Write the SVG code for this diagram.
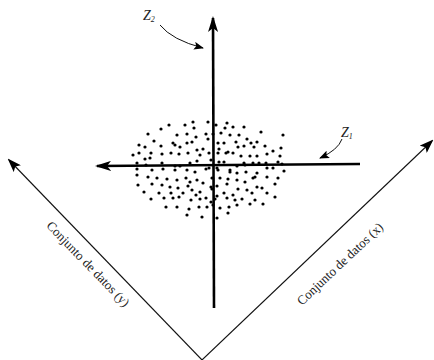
<svg xmlns="http://www.w3.org/2000/svg" width="434" height="360" viewBox="0 0 434 360">
<style>
.lbl{font-family:"Liberation Serif","Times New Roman",serif;fill:#222;}
.z{font-family:"Liberation Serif","Times New Roman",serif;font-style:italic;fill:#222;}
.axis{stroke:#000;stroke-width:2.6;fill:none;}
.diag{stroke:#111;stroke-width:1.1;fill:none;}
.pt{fill:#000;}
</style>
<defs>
<marker id="ah" viewBox="0 0 14 10" refX="12" refY="5" markerWidth="14" markerHeight="10" markerUnits="userSpaceOnUse" orient="auto">
<path d="M0,0 L14,5 L0,10 L3,5 Z" fill="#000"/>
</marker>
<marker id="ahs" viewBox="0 0 10 8" refX="9" refY="4" markerWidth="10" markerHeight="8" markerUnits="userSpaceOnUse" orient="auto">
<path d="M0,0 L10,4 L0,8 L2,4 Z" fill="#000"/>
</marker>
<marker id="ahb" viewBox="0 0 16 10" refX="14" refY="5" markerWidth="16" markerHeight="10" markerUnits="userSpaceOnUse" orient="auto">
<path d="M0,0 L16,5 L0,10 L4,5 Z" fill="#000"/>
</marker>
</defs>
<g id="cloud">
<circle class="pt" cx="193" cy="122" r="1.6"/><circle class="pt" cx="208" cy="122" r="1.6"/><circle class="pt" cx="169" cy="125" r="1.6"/><circle class="pt" cx="185" cy="125" r="1.6"/><circle class="pt" cx="161" cy="129" r="1.6"/><circle class="pt" cx="194" cy="128" r="1.6"/><circle class="pt" cx="216" cy="125" r="1.6"/><circle class="pt" cx="227" cy="123" r="1.6"/><circle class="pt" cx="233" cy="127" r="1.6"/><circle class="pt" cx="244" cy="127" r="1.6"/>
<circle class="pt" cx="221" cy="133" r="1.6"/><circle class="pt" cx="225" cy="128" r="1.6"/><circle class="pt" cx="230" cy="135" r="1.6"/><circle class="pt" cx="239" cy="135" r="1.6"/><circle class="pt" cx="148" cy="134" r="1.6"/><circle class="pt" cx="177" cy="135" r="1.6"/><circle class="pt" cx="187" cy="134" r="1.6"/><circle class="pt" cx="196" cy="137" r="1.6"/><circle class="pt" cx="206" cy="134" r="1.6"/><circle class="pt" cx="213" cy="134" r="1.6"/>
<circle class="pt" cx="261" cy="132" r="1.6"/><circle class="pt" cx="283" cy="135" r="1.6"/><circle class="pt" cx="154" cy="141" r="1.6"/><circle class="pt" cx="173" cy="143" r="1.6"/><circle class="pt" cx="175" cy="145" r="1.6"/><circle class="pt" cx="187" cy="143" r="1.6"/><circle class="pt" cx="192" cy="142" r="1.6"/><circle class="pt" cx="208" cy="139" r="1.6"/><circle class="pt" cx="218" cy="143" r="1.6"/><circle class="pt" cx="224" cy="143" r="1.6"/>
<circle class="pt" cx="236" cy="142" r="1.6"/><circle class="pt" cx="247" cy="139" r="1.6"/><circle class="pt" cx="251" cy="143" r="1.6"/><circle class="pt" cx="257" cy="142" r="1.6"/><circle class="pt" cx="139" cy="145" r="1.6"/><circle class="pt" cx="145" cy="147" r="1.6"/><circle class="pt" cx="161" cy="146" r="1.6"/><circle class="pt" cx="180" cy="147" r="1.6"/><circle class="pt" cx="197" cy="150" r="1.6"/><circle class="pt" cx="203" cy="149" r="1.6"/>
<circle class="pt" cx="219" cy="149" r="1.6"/><circle class="pt" cx="228" cy="152" r="1.6"/><circle class="pt" cx="238" cy="147" r="1.6"/><circle class="pt" cx="244" cy="146" r="1.6"/><circle class="pt" cx="254" cy="147" r="1.6"/><circle class="pt" cx="265" cy="146" r="1.6"/><circle class="pt" cx="281" cy="148" r="1.6"/><circle class="pt" cx="133" cy="155" r="1.6"/><circle class="pt" cx="139" cy="153" r="1.6"/><circle class="pt" cx="151" cy="153" r="1.6"/>
<circle class="pt" cx="162" cy="154" r="1.6"/><circle class="pt" cx="171" cy="153" r="1.6"/><circle class="pt" cx="179" cy="154" r="1.6"/><circle class="pt" cx="188" cy="153" r="1.6"/><circle class="pt" cx="200" cy="155" r="1.6"/><circle class="pt" cx="209" cy="153" r="1.6"/><circle class="pt" cx="218" cy="153" r="1.6"/><circle class="pt" cx="226" cy="153" r="1.6"/><circle class="pt" cx="233" cy="153" r="1.6"/><circle class="pt" cx="241" cy="156" r="1.6"/>
<circle class="pt" cx="250" cy="156" r="1.6"/><circle class="pt" cx="257" cy="156" r="1.6"/><circle class="pt" cx="267" cy="154" r="1.6"/><circle class="pt" cx="273" cy="151" r="1.6"/><circle class="pt" cx="280" cy="156" r="1.6"/><circle class="pt" cx="145" cy="159" r="1.6"/><circle class="pt" cx="150" cy="158" r="1.6"/><circle class="pt" cx="162" cy="163" r="1.6"/><circle class="pt" cx="190" cy="163" r="1.6"/><circle class="pt" cx="197" cy="161" r="1.6"/>
<circle class="pt" cx="211" cy="160" r="1.6"/><circle class="pt" cx="219" cy="162" r="1.6"/><circle class="pt" cx="224" cy="162" r="1.6"/><circle class="pt" cx="244" cy="163" r="1.6"/><circle class="pt" cx="253" cy="163" r="1.6"/><circle class="pt" cx="259" cy="163" r="1.6"/><circle class="pt" cx="266" cy="163" r="1.6"/><circle class="pt" cx="278" cy="162" r="1.6"/><circle class="pt" cx="137" cy="163" r="1.6"/><circle class="pt" cx="146" cy="165" r="1.6"/>
<circle class="pt" cx="175" cy="166" r="1.6"/><circle class="pt" cx="180" cy="166" r="1.6"/><circle class="pt" cx="217" cy="168" r="1.6"/><circle class="pt" cx="230" cy="170" r="1.6"/><circle class="pt" cx="237" cy="166" r="1.6"/><circle class="pt" cx="245" cy="165" r="1.6"/><circle class="pt" cx="267" cy="168" r="1.6"/><circle class="pt" cx="273" cy="168" r="1.6"/><circle class="pt" cx="282" cy="164" r="1.6"/><circle class="pt" cx="137" cy="169" r="1.6"/>
<circle class="pt" cx="152" cy="170" r="1.6"/><circle class="pt" cx="163" cy="169" r="1.6"/><circle class="pt" cx="175" cy="170" r="1.6"/><circle class="pt" cx="187" cy="170" r="1.6"/><circle class="pt" cx="195" cy="172" r="1.6"/><circle class="pt" cx="206" cy="169" r="1.6"/><circle class="pt" cx="209" cy="168" r="1.6"/><circle class="pt" cx="218" cy="170" r="1.6"/><circle class="pt" cx="230" cy="172" r="1.6"/><circle class="pt" cx="237" cy="173" r="1.6"/>
<circle class="pt" cx="246" cy="172" r="1.6"/><circle class="pt" cx="257" cy="173" r="1.6"/><circle class="pt" cx="284" cy="171" r="1.6"/><circle class="pt" cx="137" cy="175" r="1.6"/><circle class="pt" cx="148" cy="177" r="1.6"/><circle class="pt" cx="157" cy="178" r="1.6"/><circle class="pt" cx="167" cy="179" r="1.6"/><circle class="pt" cx="177" cy="180" r="1.6"/><circle class="pt" cx="186" cy="178" r="1.6"/><circle class="pt" cx="190" cy="182" r="1.6"/>
<circle class="pt" cx="197" cy="180" r="1.6"/><circle class="pt" cx="212" cy="178" r="1.6"/><circle class="pt" cx="220" cy="178" r="1.6"/><circle class="pt" cx="228" cy="179" r="1.6"/><circle class="pt" cx="237" cy="180" r="1.6"/><circle class="pt" cx="245" cy="182" r="1.6"/><circle class="pt" cx="253" cy="178" r="1.6"/><circle class="pt" cx="255" cy="177" r="1.6"/><circle class="pt" cx="267" cy="177" r="1.6"/><circle class="pt" cx="278" cy="178" r="1.6"/>
<circle class="pt" cx="138" cy="185" r="1.6"/><circle class="pt" cx="152" cy="184" r="1.6"/><circle class="pt" cx="162" cy="185" r="1.6"/><circle class="pt" cx="170" cy="187" r="1.6"/><circle class="pt" cx="178" cy="188" r="1.6"/><circle class="pt" cx="188" cy="186" r="1.6"/><circle class="pt" cx="192" cy="190" r="1.6"/><circle class="pt" cx="203" cy="183" r="1.6"/><circle class="pt" cx="211" cy="187" r="1.6"/><circle class="pt" cx="217" cy="186" r="1.6"/>
<circle class="pt" cx="227" cy="184" r="1.6"/><circle class="pt" cx="238" cy="189" r="1.6"/><circle class="pt" cx="247" cy="190" r="1.6"/><circle class="pt" cx="257" cy="187" r="1.6"/><circle class="pt" cx="262" cy="188" r="1.6"/><circle class="pt" cx="275" cy="184" r="1.6"/><circle class="pt" cx="144" cy="192" r="1.6"/><circle class="pt" cx="159" cy="193" r="1.6"/><circle class="pt" cx="171" cy="193" r="1.6"/><circle class="pt" cx="183" cy="193" r="1.6"/>
<circle class="pt" cx="196" cy="195" r="1.6"/><circle class="pt" cx="200" cy="192" r="1.6"/><circle class="pt" cx="212" cy="189" r="1.6"/><circle class="pt" cx="217" cy="196" r="1.6"/><circle class="pt" cx="224" cy="193" r="1.6"/><circle class="pt" cx="233" cy="195" r="1.6"/><circle class="pt" cx="252" cy="193" r="1.6"/><circle class="pt" cx="267" cy="193" r="1.6"/><circle class="pt" cx="151" cy="199" r="1.6"/><circle class="pt" cx="164" cy="198" r="1.6"/>
<circle class="pt" cx="173" cy="198" r="1.6"/><circle class="pt" cx="179" cy="197" r="1.6"/><circle class="pt" cx="191" cy="200" r="1.6"/><circle class="pt" cx="200" cy="199" r="1.6"/><circle class="pt" cx="206" cy="198" r="1.6"/><circle class="pt" cx="211" cy="202" r="1.6"/><circle class="pt" cx="215" cy="199" r="1.6"/><circle class="pt" cx="227" cy="198" r="1.6"/><circle class="pt" cx="235" cy="200" r="1.6"/><circle class="pt" cx="242" cy="199" r="1.6"/>
<circle class="pt" cx="255" cy="200" r="1.6"/><circle class="pt" cx="275" cy="197" r="1.6"/><circle class="pt" cx="166" cy="207" r="1.6"/><circle class="pt" cx="177" cy="207" r="1.6"/><circle class="pt" cx="189" cy="209" r="1.6"/><circle class="pt" cx="199" cy="207" r="1.6"/><circle class="pt" cx="207" cy="207" r="1.6"/><circle class="pt" cx="213" cy="205" r="1.6"/><circle class="pt" cx="220" cy="208" r="1.6"/><circle class="pt" cx="229" cy="207" r="1.6"/>
<circle class="pt" cx="237" cy="205" r="1.6"/><circle class="pt" cx="250" cy="204" r="1.6"/><circle class="pt" cx="263" cy="204" r="1.6"/><circle class="pt" cx="187" cy="215" r="1.6"/><circle class="pt" cx="202" cy="217" r="1.6"/><circle class="pt" cx="217" cy="218" r="1.6"/><circle class="pt" cx="228" cy="213" r="1.6"/>
</g>
<g id="connectors">
<line class="diag" x1="202" y1="360" x2="9" y2="160" marker-end="url(#ah)"/>
<line class="diag" x1="202" y1="360" x2="432" y2="141" marker-end="url(#ah)"/>
<line class="axis" x1="214" y1="308" x2="213" y2="18" marker-end="url(#ahb)"/>
<line class="axis" x1="360" y1="164" x2="97" y2="166" marker-end="url(#ahb)"/>
<path d="M160,25 Q172,40 203,48" stroke="#111" stroke-width="1" fill="none" marker-end="url(#ahs)"/>
<path d="M342,139 Q338,150 320,158" stroke="#111" stroke-width="1" fill="none" marker-end="url(#ahs)"/>
</g>
<g id="z2"><text class="z" x="143" y="20" font-size="14">Z<tspan font-size="8" dy="2">2</tspan></text></g>
<g id="z1"><text class="z" x="341" y="137" font-size="14">Z<tspan font-size="8" dy="2">1</tspan></text></g>
<g id="label-y"><text class="lbl" font-size="13" text-anchor="middle" transform="translate(85,267) rotate(46)">Conjunto de datos (y)</text></g>
<g id="label-x"><text class="lbl" font-size="13" text-anchor="middle" transform="translate(343,267) rotate(-43.5)">Conjunto de datos (x)</text></g>
</svg>
